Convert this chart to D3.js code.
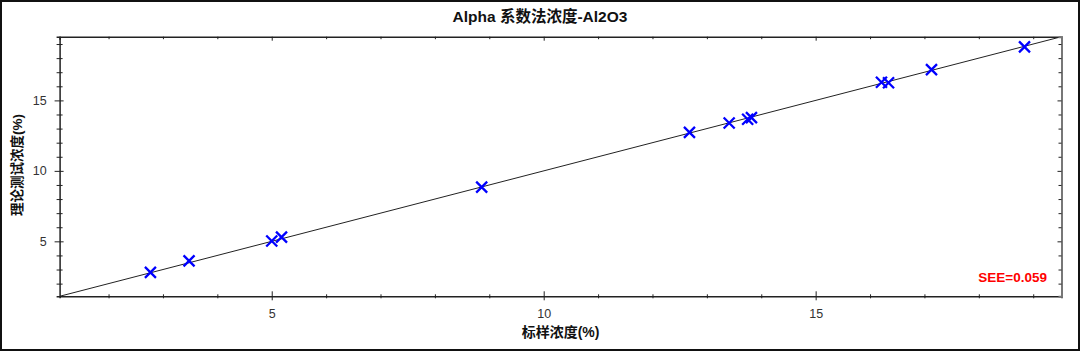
<!DOCTYPE html>
<html>
<head>
<meta charset="utf-8">
<script src="https://cdn.jsdelivr.net/npm/d3@7"></script>
<style>
  body { margin: 0; background: #fff; }
  svg { display: block; }
</style>
</head>
<body>
<div id="chart"></div>
<script>
// 标样浓度 vs 理论测试浓度
const standardConc = [2.77, 3.48, 5.00, 5.18, 8.86, 12.68, 13.41, 13.75, 13.82, 16.21, 16.34, 17.13, 18.84];
const theoryConc   = [2.80, 3.61, 5.02, 5.30, 8.85, 12.73, 13.40, 13.66, 13.78, 16.29, 16.25, 17.18, 18.80];
const xDomain = [1.1, 19.52];
const yDomain = [1.1, 19.52];
const majorTicks = [5, 10, 15];
const minorTicks = d3.range(2, 20);
const titleText = "Alpha 系数法浓度-Al2O3";
const xLabel = "标样浓度(%)";
const yLabel = "理论测试浓度(%)";
const seeText = "SEE=0.059";

const width = 1080, height = 351;
const margin = { top: 36.7, right: 18.5, bottom: 54.7, left: 59.6 };
const plotW = width - margin.left - margin.right;
const plotH = height - margin.top - margin.bottom;

const svg = d3.select("#chart").append("svg")
    .attr("width", width)
    .attr("height", height);

svg.append("rect")
    .attr("x", 1).attr("y", 1)
    .attr("width", width - 2).attr("height", height - 2)
    .attr("fill", "#fff")
    .attr("stroke", "#111")
    .attr("stroke-width", 2);

const x = d3.scaleLinear().domain(xDomain).range([margin.left, margin.left + plotW]);
const y = d3.scaleLinear().domain(yDomain).range([margin.top + plotH, margin.top]);

const font = "'Liberation Sans', Arial, 'Noto Sans CJK SC', sans-serif";

// title
svg.append("text")
    .attr("x", 540).attr("y", 22)
    .attr("text-anchor", "middle")
    .attr("font-family", font)
    .attr("font-weight", "bold")
    .attr("font-size", 15.5)
    .attr("fill", "#111")
    .text(titleText);

svg.append("defs").append("clipPath").attr("id", "clip")
    .append("rect")
    .attr("x", margin.left).attr("y", margin.top)
    .attr("width", plotW).attr("height", plotH);

// fit line y = x
svg.append("line")
    .attr("clip-path", "url(#clip)")
    .attr("x1", x(xDomain[0])).attr("y1", y(xDomain[0]))
    .attr("x2", x(xDomain[1])).attr("y2", y(xDomain[1]))
    .attr("stroke", "#222")
    .attr("stroke-width", 1);

// axes
function minorFmt() { return ""; }
const minorOnly = minorTicks.filter(v => !majorTicks.includes(v));

const axBottom = svg.append("g")
    .attr("transform", `translate(0,${margin.top + plotH})`)
    .call(d3.axisBottom(x).tickValues(minorOnly).tickSize(2).tickFormat(minorFmt));
axBottom.selectAll(".tick line").attr("y1", -2);
const axBottomMajor = svg.append("g")
    .attr("transform", `translate(0,${margin.top + plotH})`)
    .call(d3.axisBottom(x).tickValues(majorTicks).tickSize(4).tickPadding(9));
axBottomMajor.selectAll(".tick line").attr("y1", -5);
axBottomMajor.select(".domain").remove();

const axLeft = svg.append("g")
    .attr("transform", `translate(${margin.left},0)`)
    .call(d3.axisLeft(y).tickValues(minorOnly).tickSize(3).tickFormat(minorFmt));
axLeft.selectAll(".tick line").attr("x1", 3);
const axLeftMajor = svg.append("g")
    .attr("transform", `translate(${margin.left},0)`)
    .call(d3.axisLeft(y).tickValues(majorTicks).tickSize(5).tickPadding(8));
axLeftMajor.selectAll(".tick line").attr("x1", 4);
axLeftMajor.select(".domain").remove();

const axTop = svg.append("g")
    .attr("transform", `translate(0,${margin.top})`)
    .call(d3.axisBottom(x).tickValues(minorTicks).tickSize(3).tickFormat(minorFmt));
axTop.selectAll(".tick line").attr("y2", d => majorTicks.includes(d) ? 4 : 2.5);

const axRight = svg.append("g")
    .attr("transform", `translate(${margin.left + plotW},0)`)
    .call(d3.axisLeft(y).tickValues(minorTicks).tickSize(3).tickFormat(minorFmt));
axRight.selectAll(".tick line").attr("x2", d => majorTicks.includes(d) ? -4 : -3);

svg.selectAll(".domain").attr("stroke", "#222").attr("stroke-width", 1.5);
axRight.select(".domain").attr("stroke", "#777").attr("stroke-width", 2);
svg.selectAll(".tick line").attr("stroke", "#222");
svg.selectAll(".tick text")
    .attr("font-family", font)
    .attr("font-size", 12.5)
    .attr("fill", "#333");

// axis labels
svg.append("text")
    .attr("x", margin.left + plotW / 2).attr("y", 337)
    .attr("text-anchor", "middle")
    .attr("font-family", font)
    .attr("font-weight", "bold")
    .attr("font-size", 14)
    .attr("fill", "#111")
    .text(xLabel);

svg.append("text")
    .attr("transform", "translate(21.5,165) rotate(-90)")
    .attr("text-anchor", "middle")
    .attr("font-family", font)
    .attr("font-weight", "bold")
    .attr("font-size", 13.5)
    .attr("fill", "#111")
    .text(yLabel);

// points
const pts = standardConc.map((v, i) => ({ x: v, y: theoryConc[i] }));
const s = 5.5;
svg.append("g").selectAll("path")
    .data(pts)
    .enter()
    .append("path")
    .attr("d", d => {
        const cx = x(d.x), cy = y(d.y);
        return `M${cx - s},${cy - s}L${cx + s},${cy + s}M${cx - s},${cy + s}L${cx + s},${cy - s}`;
    })
    .attr("stroke", "#0000ff")
    .attr("stroke-width", 2.3)
    .attr("fill", "none");

svg.append("text")
    .attr("x", 1047).attr("y", 281.5)
    .attr("text-anchor", "end")
    .attr("font-family", font)
    .attr("font-weight", "bold")
    .attr("font-size", 13.5)
    .attr("fill", "#ff0000")
    .text(seeText);
</script>
</body>
</html>
